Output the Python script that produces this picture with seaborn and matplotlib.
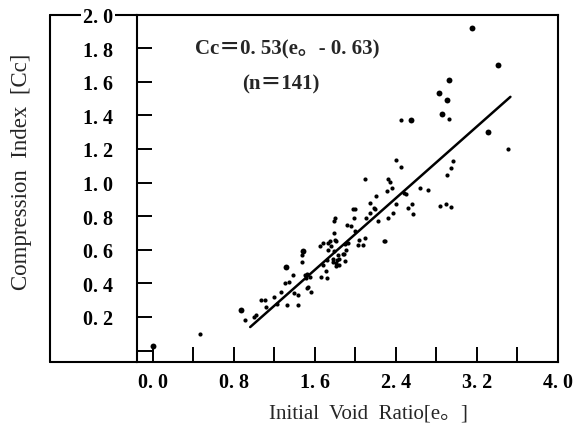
import matplotlib
matplotlib.use("Agg")
import matplotlib.pyplot as plt
import seaborn as sns
import pandas as pd
import numpy as np

# ---- data ----
small_x = [0.46, 0.91, 1.00, 1.02, 1.07, 1.11, 1.12, 1.20, 1.22, 1.26, 1.32, 1.43, 1.34, 1.38,
           1.39, 1.43, 1.47, 1.47, 1.52, 1.55, 1.51, 1.53, 1.56, 1.52, 1.65, 1.68, 1.73, 1.75,
           1.80, 1.79, 1.80, 1.79, 1.73, 1.66, 1.72, 1.68, 1.71, 1.72, 1.78, 1.84, 1.89, 1.90,
           1.84, 1.81, 1.92, 1.93, 1.91, 1.98, 2.00, 1.99, 2.10, 2.14, 2.22, 2.32, 2.37, 1.96,
           2.00, 2.03, 2.09, 2.02, 2.07, 2.28, 1.81, 1.76, 1.79, 1.90, 1.83, 1.88, 1.82, 1.78,
           1.81, 2.09, 2.14, 2.18, 2.19, 2.20, 2.31, 2.36, 2.32, 2.34, 2.40, 2.45, 2.40, 2.48,
           2.50, 2.52, 2.56, 2.57, 2.64, 2.72, 2.83, 2.89, 2.94, 2.90, 2.94, 2.96, 2.45, 2.92,
           3.51, 2.29, 1.30, 1.50]
small_y = [0.10, 0.18, 0.20, 0.21, 0.30, 0.30, 0.26, 0.32, 0.28, 0.35, 0.27, 0.27, 0.41, 0.45,
           0.34, 0.33, 0.53, 0.57, 0.455, 0.44, 0.43, 0.38, 0.35, 0.37, 0.62, 0.64, 0.64, 0.65,
           0.66, 0.70, 0.79, 0.77, 0.60, 0.44, 0.43, 0.51, 0.475, 0.54, 0.545, 0.545, 0.575, 0.535,
           0.51, 0.52, 0.75, 0.64, 0.60, 0.84, 0.84, 0.79, 0.79, 0.82, 0.77, 0.79, 0.82, 0.74,
           0.71, 0.66, 0.67, 0.63, 0.63, 0.65, 0.65, 0.625, 0.595, 0.635, 0.57, 0.575, 0.54, 0.525,
           0.505, 1.02, 0.876, 0.85, 0.84, 0.92, 0.95, 0.965, 1.02, 1.005, 1.135, 1.09, 0.87, 0.936,
           0.93, 0.85, 0.87, 0.81, 0.97, 0.955, 0.86, 0.87, 0.855, 1.045, 1.085, 1.13, 1.374, 1.38,
           1.20, 0.65, 0.40, 0.45]
large_x = [0.00, 0.87, 1.31, 1.48, 2.55, 2.85, 2.82, 2.90, 2.92, 3.15, 3.41, 3.31]
large_y = [0.03, 0.24, 0.50, 0.59, 1.374, 1.41, 1.53, 1.49, 1.61, 1.92, 1.70, 1.30]

fit_x = [0.96, 3.53]
fit_y = [0.14, 1.51]

x_ticks = [0.0, 0.4, 0.8, 1.2, 1.6, 2.0, 2.4, 2.8, 3.2, 3.6, 4.0]
x_labels = ["0. 0", "", "0. 8", "", "1. 6", "", "2. 4", "", "3. 2", "", "4. 0"]
y_ticks = [0.0, 0.2, 0.4, 0.6, 0.8, 1.0, 1.2, 1.4, 1.6, 1.8, 2.0]
y_labels = ["", "0. 2", "0. 4", "0. 6", "0. 8", "1. 0", "1. 2", "1. 4", "1. 6", "1. 8", "2. 0"]

equation = "Cc＝0. 53(e。- 0. 63)"
count_text = "(n＝141)"
x_title = "Initial  Void  Ratio[e。]"
y_title = "Compression  Index  [Cc]"

# ---- plotting ----
sns.set_theme(style="white")
plt.rcParams["font.family"] = ["Liberation Serif", "Noto Sans CJK JP"]

W, H = 574, 439
fig = plt.figure(figsize=(W / 100, H / 100), dpi=100)
left_px, right_px, top_px, bot_px = 137, 558, 15.5, 363
ax = fig.add_axes([left_px / W, 1 - bot_px / H, (right_px - left_px) / W, (bot_px - top_px) / H])

df_small = pd.DataFrame({"e0": small_x, "Cc": small_y})
df_large = pd.DataFrame({"e0": large_x, "Cc": large_y})
sns.scatterplot(data=df_small, x="e0", y="Cc", ax=ax, color="black", s=9, linewidth=0, zorder=3)
sns.scatterplot(data=df_large, x="e0", y="Cc", ax=ax, color="black", s=18, linewidth=0, zorder=3)
sns.lineplot(x=fit_x, y=fit_y, ax=ax, color="black", linewidth=1.8, zorder=3)

ax.set_xlim(-0.158, 4.0)
ax.set_ylim(-0.068, 2.0)

for sp in ax.spines.values():
    sp.set_color("black")
    sp.set_linewidth(1.5)

ax.set_xticks(x_ticks)
ax.set_xticklabels(x_labels, fontsize=14.5, fontweight="bold")
ax.set_yticks(y_ticks)
ax.set_yticklabels(y_labels, fontsize=14.5, fontweight="bold")
ax.tick_params(axis="x", direction="in", length=11, width=1.4, pad=7, bottom=True, colors="black")
ax.tick_params(axis="y", direction="in", length=11, width=1.4, pad=17, left=True, colors="black")
ax.yaxis.set_zorder(4)
ax.get_yticklabels()[-1].set_bbox(dict(facecolor="white", edgecolor="none", pad=1.5))

ax.set_xlabel("")
ax.set_ylabel("")

# outer frame extending left of the inner axis
xo = (50 - left_px) / (right_px - left_px)
for xs, ys in [([xo, 0], [1, 1]), ([xo, xo], [0, 1]), ([xo, 0], [0, 0])]:
    ax.plot(xs, ys, transform=ax.transAxes, clip_on=False, color="black", lw=1.5, zorder=1)

fig.text(287 / W, 1 - 49 / H, equation, ha="center", va="center", fontsize=15, fontweight="bold")
fig.text(281 / W, 1 - 84 / H, count_text, ha="center", va="center", fontsize=15, fontweight="bold")
fig.text(368 / W, 1 - 414 / H, x_title, ha="center", va="center", fontsize=15)
fig.text(22 / W, 1 - 172 / H, y_title, ha="center", va="center", fontsize=16.5, rotation=90)

fig.savefig("out.png", dpi=100, facecolor="white")
